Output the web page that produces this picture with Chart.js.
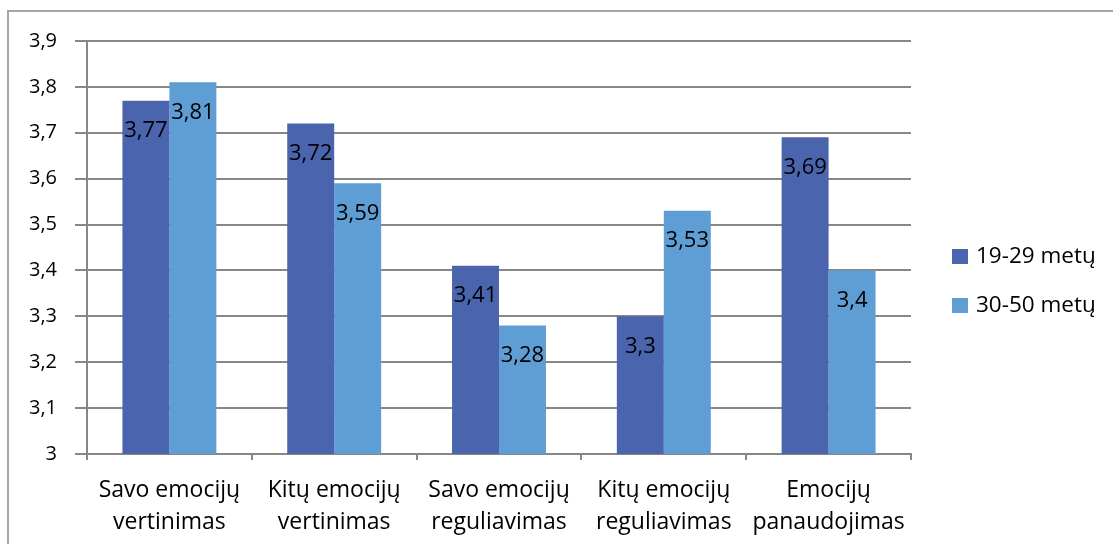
<!DOCTYPE html>
<html>
<head>
<meta charset="utf-8">
<script src="https://cdn.jsdelivr.net/npm/chart.js@4/dist/chart.umd.min.js"></script>
<style>
  html, body { margin: 0; padding: 0; background: #fff; }
  #wrap { position: relative; width: 1113px; height: 544px; overflow: hidden; }
  #frame { position: absolute; left: 7px; top: 10px; width: 1200px; height: 600px;
           border-left: 2px solid #a6a6a6; border-top: 2px solid #a6a6a6; }
  canvas { position: absolute; left: 0; top: 0; }
</style>
</head>
<body>
<div id="wrap">
  <div id="frame"></div>
  <canvas id="c" width="1113" height="544"></canvas>
</div>
<script>
// Emotional intelligence component scores by age group
const categories = [
  ['Savo emocijų', 'vertinimas'],
  ['Kitų emocijų', 'vertinimas'],
  ['Savo emocijų', 'reguliavimas'],
  ['Kitų emocijų', 'reguliavimas'],
  ['Emocijų', 'panaudojimas']
];
const seriesNames = ['19-29 metų', '30-50 metų'];
const youngerValues = [3.77, 3.72, 3.41, 3.30, 3.69];
const olderValues = [3.81, 3.59, 3.28, 3.53, 3.40];
const yTicks = [3, 3.1, 3.2, 3.3, 3.4, 3.5, 3.6, 3.7, 3.8, 3.9];

const colors = ['#4A65AE', '#5F9ED4'];
const gridColor = '#878787';
const FONT = 'Open Sans';

const fmt = v => String(Math.round(v * 100) / 100).replace('.', ',');

// Value labels inside the top end of each bar
const valueLabels = {
  id: 'valueLabels',
  afterDatasetsDraw(chart) {
    const ctx = chart.ctx;
    ctx.save();
    ctx.font = '22px "' + FONT + '"';
    ctx.fillStyle = '#000';
    ctx.textAlign = 'center';
    ctx.textBaseline = 'middle';
    chart.data.datasets.forEach((ds, di) => {
      chart.getDatasetMeta(di).data.forEach((bar, i) => {
        ctx.fillText(fmt(ds.data[i]), bar.x, bar.y + 30);
      });
    });
    ctx.restore();
  }
};

// Legend to the right of the plot
const sideLegend = {
  id: 'sideLegend',
  afterDraw(chart) {
    const ctx = chart.ctx;
    const x0 = chart.chartArea.right + 41;
    const rows = [257, 306];
    ctx.save();
    ctx.font = '22.5px "' + FONT + '"';
    ctx.textBaseline = 'middle';
    ctx.textAlign = 'left';
    chart.data.datasets.forEach((ds, i) => {
      ctx.fillStyle = ds.backgroundColor;
      ctx.fillRect(x0, rows[i] - 8, 16, 15);
      ctx.fillStyle = '#000';
      ctx.fillText(ds.label, x0 + 24, rows[i]);
    });
    ctx.restore();
  }
};

new Chart(document.getElementById('c'), {
  type: 'bar',
  data: {
    labels: categories,
    datasets: [
      { label: seriesNames[0], data: youngerValues, backgroundColor: colors[0] },
      { label: seriesNames[1], data: olderValues, backgroundColor: colors[1] }
    ]
  },
  options: {
    responsive: false,
    animation: false,
    devicePixelRatio: 1,
    layout: { padding: { left: 0, top: 41, right: 202, bottom: 0 } },
    datasets: { bar: { categoryPercentage: 0.57, barPercentage: 1.0 } },
    plugins: {
      legend: { display: false },
      tooltip: { enabled: false }
    },
    scales: {
      x: {
        afterFit(scale) { scale.height = 90; },
        grid: { drawOnChartArea: false, drawTicks: true, tickLength: 6, color: gridColor, lineWidth: 2, offset: true },
        border: { display: true, color: gridColor, width: 2 },
        ticks: {
          color: '#000',
          font: { family: FONT, size: 23, lineHeight: 1.4 },
          maxRotation: 0, autoSkip: false, padding: 14
        }
      },
      y: {
        min: yTicks[0],
        max: yTicks[yTicks.length - 1],
        afterFit(scale) { scale.width = 87; },
        afterBuildTicks(scale) { scale.ticks = yTicks.map(v => ({ value: v })); },
        grid: { color: gridColor, lineWidth: 2, tickLength: 12 },
        border: { display: true, color: gridColor, width: 2 },
        ticks: {
          color: '#000',
          font: { family: FONT, size: 20 },
          padding: 18,
          callback: v => fmt(v)
        }
      }
    }
  },
  plugins: [valueLabels, sideLegend]
});
</script>
</body>
</html>
